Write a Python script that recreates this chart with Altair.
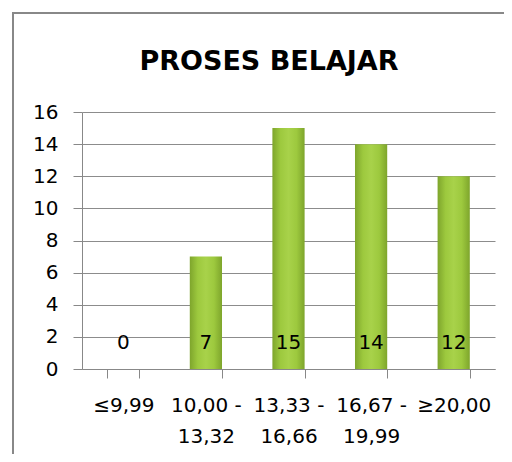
import altair as alt
import pandas as pd

categories = ["≤9,99", "10,00 -\n13,32", "13,33 -\n16,66", "16,67 -\n19,99", "≥20,00"]
values = [0, 7, 15, 14, 12]
title_text = "PROSES BELAJAR"
y_ticks = [0, 2, 4, 6, 8, 10, 12, 14, 16]

df = pd.DataFrame({"cat": categories, "val": values})
FONT = "DejaVu Sans"

x_axis = alt.Axis(
    title=None,
    labelAngle=0,
    labelExpr="split(datum.label, '\\n')",
    labelLineHeight=31,
    labelFont=FONT,
    labelFontSize=20,
    labelColor="#000000",
    labelPadding=17,
    tickBand="extent",
    tickSize=9,
    tickColor="#888888",
    domainColor="#888888",
    grid=False,
    labelBaseline="top",
)

y_axis = alt.Axis(
    title=None,
    values=y_ticks,
    labelOverlap=False,
    labelFont=FONT,
    labelFontSize=20,
    labelColor="#000000",
    tickSize=9,
    tickColor="#888888",
    labelPadding=15,
    domainColor="#888888",
    gridColor="#8c8c8c",
    gridWidth=1,
)
y_scale = alt.Scale(domain=[0, 16], nice=False)
x_scale = alt.Scale(paddingInner=0.61, paddingOuter=0.305)

bars = alt.Chart(df).mark_bar(
    fill=alt.Gradient(
        gradient="linear",
        x1=0, x2=1, y1=0, y2=0,
        stops=[
            alt.GradientStop(offset=0, color="#7ea52c"),
            alt.GradientStop(offset=0.25, color="#9dc93e"),
            alt.GradientStop(offset=0.5, color="#a8d24a"),
            alt.GradientStop(offset=0.75, color="#9dc93e"),
            alt.GradientStop(offset=1, color="#7ea52c"),
        ],
    ),
).encode(
    x=alt.X("cat:N", sort=categories, scale=x_scale, axis=x_axis),
    y=alt.Y("val:Q", scale=y_scale, axis=y_axis),
)

labels = alt.Chart(df).mark_text(
    font=FONT, fontSize=20, color="#000000", baseline="middle", dy=-26
).encode(
    x=alt.X("cat:N", sort=categories, scale=x_scale, axis=x_axis),
    y=alt.datum(0, scale=y_scale, axis=y_axis),
    text=alt.Text("val:Q"),
)

title = alt.Chart(pd.DataFrame({"t": [title_text]})).mark_text(
    font=FONT, fontSize=27, fontWeight="bold", color="#000000",
    align="center", baseline="alphabetic"
).encode(
    text="t:N",
    x=alt.value(187),
    y=alt.value(-42),
)

border = alt.Chart(pd.DataFrame({"k": [0]})).mark_rect(
    fill=None, stroke="#888888", strokeWidth=2, clip=False
).encode(
    x=alt.value(-69), x2=alt.value(460), y=alt.value(-99), y2=alt.value(380)
)

chart = alt.layer(bars, labels, title, border).properties(
    width=413,
    height=257,
    padding={"left": 74, "top": 104, "right": 9, "bottom": 85},
    autosize=alt.AutoSizeParams(type="none"),
    background="white",
).configure_view(stroke=None)

chart.save("out.html", embed_options={"renderer": "svg", "actions": False})
